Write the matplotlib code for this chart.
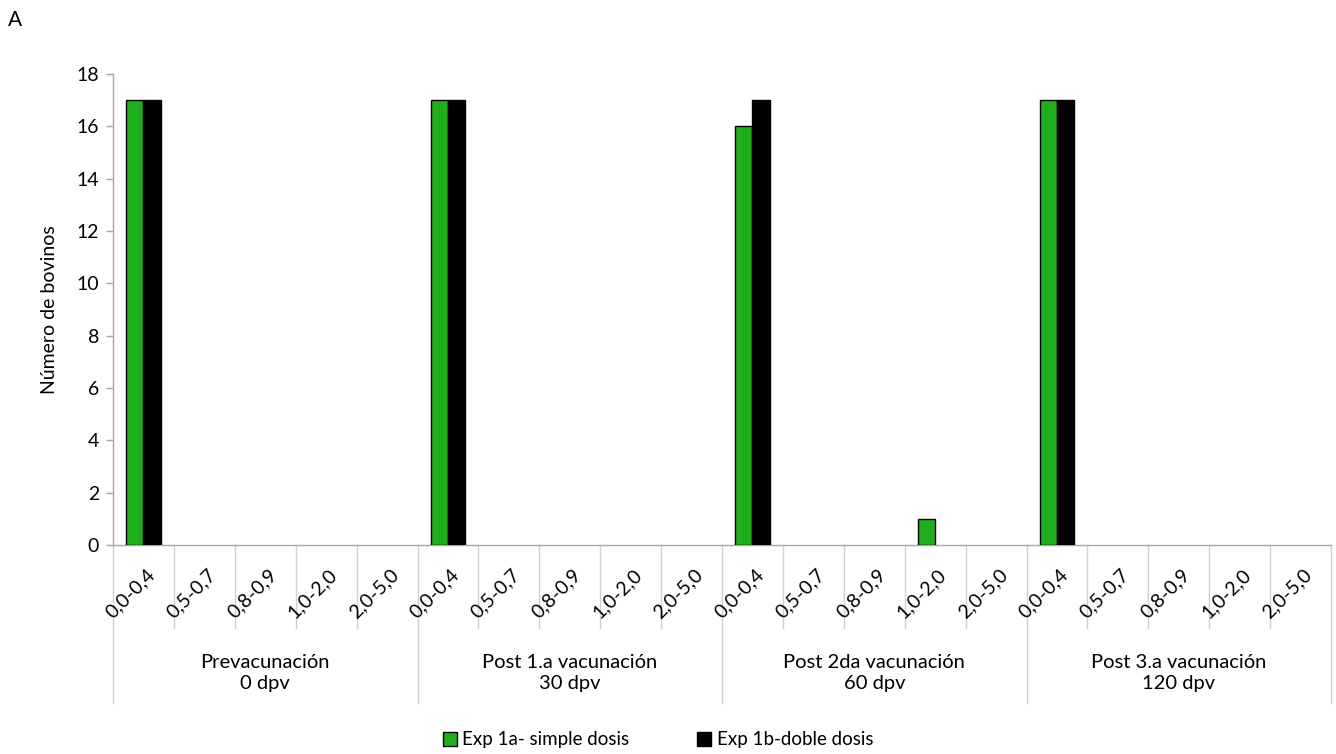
import matplotlib
matplotlib.use("Agg")
import matplotlib.pyplot as plt
from matplotlib.patches import Patch
from matplotlib.transforms import blended_transform_factory

plt.rcParams['font.family'] = ['Lato', 'DejaVu Sans']

# Concentration ranges (per period) and sampling periods
ranges = ['0,0-0,4', '0,5-0,7', '0,8-0,9', '1,0-2,0', '2,0-5,0']
periods = ['Prevacunación\n0 dpv', 'Post 1.a vacunación\n30 dpv',
           'Post 2da vacunación\n60 dpv', 'Post 3.a vacunación\n120 dpv']

# Number of cattle per range, one block of five per period
simple_dosis = [17, 0, 0, 0, 0,
                17, 0, 0, 0, 0,
                16, 0, 0, 1, 0,
                17, 0, 0, 0, 0]
doble_dosis = [17, 0, 0, 0, 0,
               17, 0, 0, 0, 0,
               17, 0, 0, 0, 0,
               17, 0, 0, 0, 0]

series_names = ['Exp 1a- simple dosis', 'Exp 1b-doble dosis']
green = '#21ae1c'
grid_grey = '#d0d0d0'
axis_grey = '#a6a6a6'

fig = plt.figure(figsize=(13.36, 7.54), dpi=100)
ax = fig.add_axes([0.0846, 0.2772, 0.9117, 0.6247])

n = len(periods) * len(ranges)
x = list(range(n))
w = 0.285

lw_s = [1.0 if v > 0 else 0 for v in simple_dosis]
lw_d = [1.0 if v > 0 else 0 for v in doble_dosis]
ax.bar([i - w / 2 for i in x], simple_dosis, width=w, color=green,
       edgecolor='black', linewidth=lw_s, zorder=3)
ax.bar([i + w / 2 for i in x], doble_dosis, width=w, color='black',
       edgecolor='black', linewidth=lw_d, zorder=3)

ax.set_xlim(-0.5, n - 0.5)
ax.set_ylim(0, 18)
ax.set_yticks(range(0, 19, 2))
ax.tick_params(axis='y', labelsize=14, colors=axis_grey, labelcolor='black',
               length=5, width=1, direction='out', pad=5)
ax.set_xticks([])
for side in ['top', 'right']:
    ax.spines[side].set_visible(False)
for side in ['left', 'bottom']:
    ax.spines[side].set_color(axis_grey)
    ax.spines[side].set_linewidth(1)

trans = blended_transform_factory(ax.transData, ax.transAxes)

# Category separators: short ones between ranges, long ones between periods
for k in range(n + 1):
    xb = k - 0.5
    y_end = -0.335 if k % len(ranges) == 0 else -0.176
    ax.plot([xb, xb], [0, y_end], transform=trans, color=grid_grey,
            linewidth=1, clip_on=False, zorder=1)

# Rotated range labels
for i in x:
    ax.text(i - 0.22, -0.104, ranges[i % len(ranges)], transform=trans,
            rotation=45, rotation_mode='anchor', ha='center', va='center',
            fontsize=14)

# Period labels
for g, label in enumerate(periods):
    xc = g * len(ranges) + (len(ranges) - 1) / 2
    ax.text(xc, -0.272, label, transform=trans, ha='center', va='center',
            fontsize=14.5, linespacing=1.3)

fig.text(50 / 1336, 1 - 310 / 754, 'Número de bovinos', rotation=90,
         ha='center', va='center', fontsize=14)
fig.text(8 / 1336, 1 - 20 / 754, 'A', ha='left', va='center', fontsize=15)

handles = [Patch(facecolor=green, edgecolor='black', linewidth=1),
           Patch(facecolor='black', edgecolor='black', linewidth=1)]
fig.legend(handles, series_names, loc='center', ncol=2,
           bbox_to_anchor=(658 / 1336, 1 - 740 / 754), frameon=False,
           fontsize=13.5, handlelength=0.75, handleheight=0.75,
           handletextpad=0.3, columnspacing=3.6)

fig.savefig('out.png', dpi=100)
